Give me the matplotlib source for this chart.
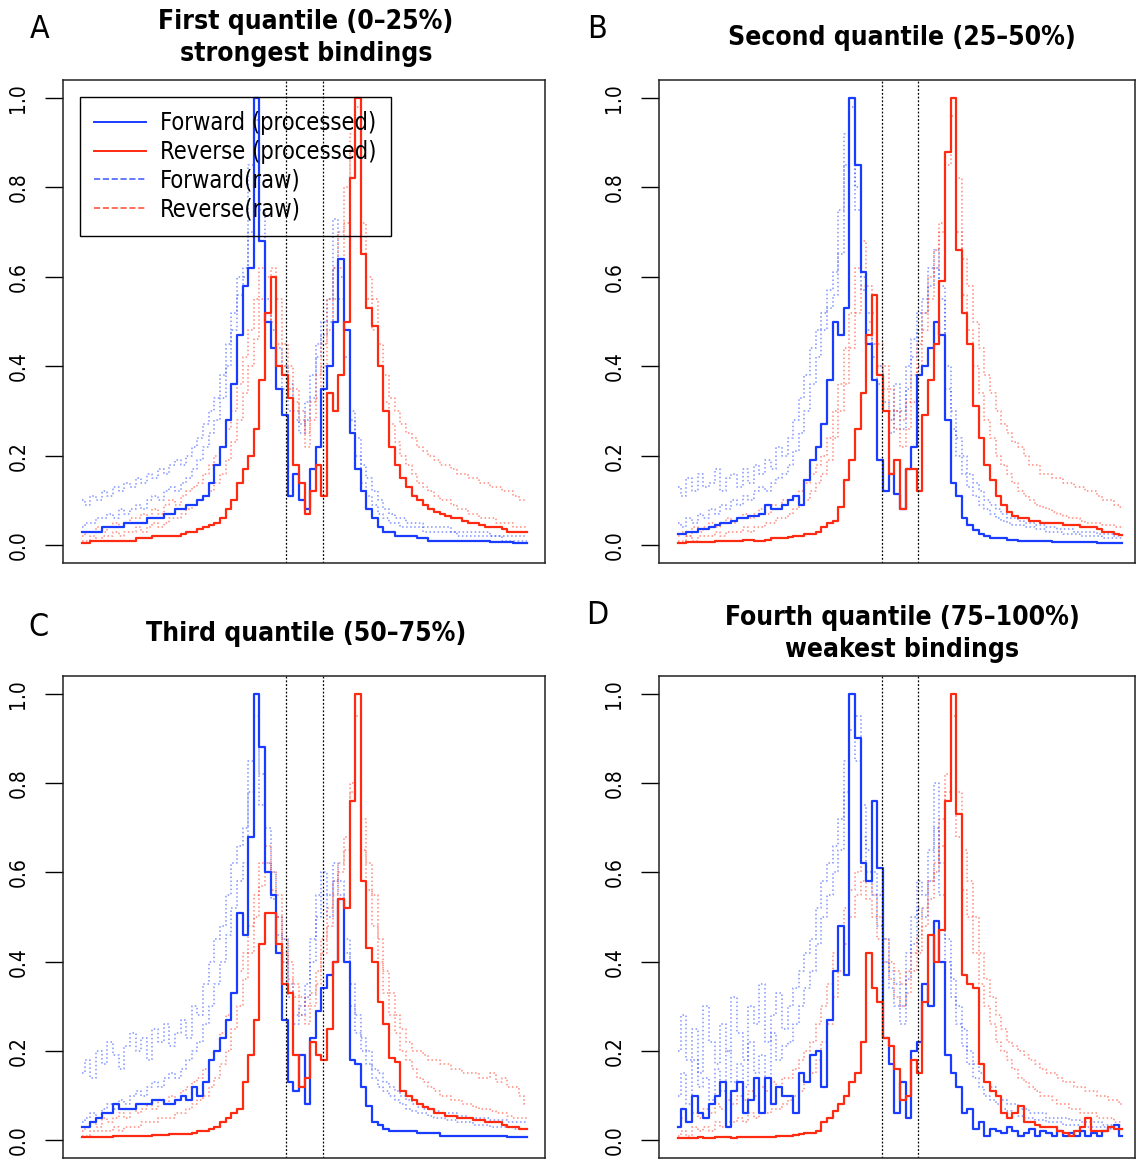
import numpy as np
import matplotlib
matplotlib.use('Agg')
import matplotlib.pyplot as plt
from matplotlib.lines import Line2D

# positions around the binding site (bp), one value per 5 bp bin
pos = np.arange(-197.5, 200, 5)
site = [-16, 16]

titles = ['First quantile (0\u201325%)\nstrongest bindings',
          'Second quantile (25\u201350%)',
          'Third quantile (50\u201375%)',
          'Fourth quantile (75\u2013100%)\nweakest bindings']
letters = ['A', 'B', 'C', 'D']
legend_labels = ['Forward (processed)', 'Reverse (processed)', 'Forward(raw)', 'Reverse(raw)']

# ---- panel A (values in % of max) ----
a_fwd = [3,3,3,3,4,4,4,4,5,5, 5,5,6,6,6,7,7,8,8,9, 9,10,11,14,18,22,28,36,47,58,
         62,100,68,50,44,35,29,11,16,10, 8,17,22,35,40,50,64,48,25,17,
         12,8,6,4,3,3,2,2,2,2, 1.5,1.5,1,1,1,1,1,1,1,1, 1,1,1,0.8,0.8,0.6,0.6,0.5,0.5,0.5]
a_rev = [0.5,0.5,1,1,1,1,1,1,1,1, 1.5,1.5,1.5,2,2,2,2,2,2.5,3, 3,3.5,4,4.5,5,6,8,10,14,17,
         20,26,37,52,60,40,38,33,18,14, 7,12,18,11,34,30,38,50,82,100,
         65,53,49,40,30,22,18,15,13,11, 10,9,8,7.5,7,6.5,6,6,5.5,5, 5,4.5,4,4,4,3.5,3,3,3,3]
a_fwd_raw1 = [10,9,11,10,12,11,13,12,14,13, 15,14,16,15,17,16,18,19,18,20,
              22,24,27,30,33,38,45,52,60,62, 85,100,75,55,48,44,40,36,30,27,
              32,38,45,50,55,73,60,48,30,24, 18,15,12,10,8,7,6,6,5,5,
              5,4,4,4,4,4,3,3,3,3, 3,3,3,2,2,2,2,2,2,2]
a_fwd_raw2 = [4,5,5,6,6,7,6,8,7,8, 9,8,10,11,10,12,13,12,14,15,
              17,19,22,25,28,33,40,48,56,60, 70,95,68,50,44,40,35,30,28,25,
              28,33,42,47,50,62,55,42,28,20, 14,11,9,7,6,5,5,4,4,4,
              4,3,3,3,3,3,3,2,2,2, 2,2,2,2,2,1,1,1,1,1]
a_rev_raw1 = [2,3,3,4,3,4,5,4,5,6, 6,7,6,8,7,9,10,9,11,12,
              13,14,16,18,20,22,26,30,36,42, 48,55,62,50,62,55,45,40,35,30,
              25,32,38,45,55,62,70,80,92,100, 72,60,55,45,38,33,30,27,25,24,
              22,21,20,19,18,18,17,16,16,15, 15,14,14,13,13,12,12,11,10,10]
a_rev_raw2 = [1,1,2,1,2,2,3,2,3,3, 4,3,4,5,4,5,6,6,7,8,
              9,10,11,12,14,16,19,23,28,34, 40,46,55,60,50,45,40,35,32,28,
              22,28,33,40,48,55,62,72,88,98, 65,55,48,40,32,27,23,20,18,16,
              14,13,12,11,10,10,9,8,8,7, 7,6,6,6,5,5,5,4,4,4]

# ---- panel B ----
b_fwd = [2.5,2.5,3,3,3.5,3.5,4,4.5,5,5, 5.5,6,6,6.5,6.5,7,9,8,8,9,
         10,11,9,14.5,19,22,27,37,50,47, 53,100,85,61,45,37,19,12,16,11.5,
         8,17,22,38,40,44,50,47,28,14, 11,6,4.5,3.3,2.5,2,1.5,1.5,1.5,1.2,
         1.2,1,1,1,1,1,1,0.8,0.8,0.8, 0.8,0.7,0.7,0.6,0.6,0.5,0.5,0.5,0.5,0.5]
b_rev = [0.4,0.5,0.6,0.6,0.7,0.8,0.8,0.9,1,1, 1,1,1.2,1.2,1,1,1.2,1.5,1.5,1.5,
         1.8,2,2,2.5,2.5,3,4,5,5.5,8.5, 14.5,19,26,34,47,56,38,30,16,19,
         8,17,17,12,29,37,45,59,88,100, 66,52,45,31,24,18,14.5,11,9,7.5,
         6.5,6,6,5.5,5.5,5,5,5,5,4.5, 4.5,4.5,4,4,4,3.5,3,3,2.5,2.2]
b_fwd_raw1 = [13,11,15,12,16,13,14,17,12,15, 16,13,17,14,18,16,19,17,22,20,
              24,28,33,38,44,48,52,57,61,75, 92,100,80,60,52,45,40,32,28,36,
              30,40,46,52,55,62,66,58,40,30, 24,20,16,14,12,10,9,8,7,6,
              6,5.5,5,5,4.5,4.5,4,4,3.5,3.5, 3.5,3,3,3,3,2.5,2.5,2.5,2,2]
b_fwd_raw2 = [5,4,6,5,7,6,8,7,9,8, 10,9,11,10,12,13,12,14,15,16,
              18,21,25,30,36,42,48,53,56,65, 85,98,75,57,48,42,36,30,25,30,
              26,35,42,48,52,58,62,55,35,26, 20,16,13,11,9,8,7,6,5.5,5,
              4.5,4.5,4,4,3.5,3.5,3,3,3,2.5, 2.5,2.5,2,2,2,2,1.5,1.5,1.5,1.5]
b_rev_raw1 = [2,3,2,4,3,4,5,4,5,6, 5,6,7,6,7,8,7,9,8,10,
              10,11,12,14,16,18,20,24,30,36, 44,52,62,68,58,52,45,40,35,30,
              28,32,38,45,52,60,66,72,88,100, 82,64,58,50,44,38,34,30,27,25,
              23,22,20,18,18,16,16,15,15,14, 14,13,13,12,12,11,10,10,9,8.5]
b_rev_raw2 = [1,1,2,1,2,2,2,3,2,3, 3,3,4,3,4,4,5,5,6,6,
              7,8,9,10,12,14,16,19,24,30, 36,44,52,58,50,45,40,35,30,26,
              22,26,32,40,48,55,62,70,85,96, 70,56,48,40,34,28,24,20,18,16,
              14,12,11,10,9,8.5,8,7.5,7,6.5, 6,6,5.5,5,5,5,4.5,4.5,4,4]

# ---- panel C ----
c_fwd = [3,3,4,5,6,6,8,7,7,7, 8,8,8,9,9,8,8,9,10,9, 12,10,13,18,20,23,27,33,51,46,
         68,100,88,60,55,42,27,13,11,19, 8,23,29,34,37,40,54,40,18,17,
         12,7.6,4,3.5,2.5,2,2,2,2,2, 1.5,1.5,1.5,1.5,1,1,1,1,1,1, 1,1,1,1,1,1,0.8,0.8,0.8,0.8]
c_rev = [0.6,0.6,0.7,0.7,0.8,0.8,0.9,0.9,1,1, 1,1,1,1.2,1.2,1.2,1.3,1.3,1.4,1.4,
         1.5,2,2,2.5,3,4,5,6,7,13, 19,27,44,51,51,44,35,33,19,12,
         14,22,19,18,25,40,54,52,76,100, 58,43,40,31,26,18.5,17.5,11,10,9,
         8,7.5,7,6,6,5.5,5.5,5,5,5, 4.5,4.5,4,4,4,3.5,3,3,2.5,2.5]
c_fwd_raw1 = [15,18,14,20,17,22,19,16,21,24, 20,23,18,25,22,26,21,24,27,23,
              30,28,35,40,45,48,55,62,66,70, 85,100,82,70,60,50,45,35,28,30,
              35,45,55,60,55,62,58,45,35,28, 23,20,16,15,13,12,11,10,9,8,
              7.5,7,7,6.5,6,6,6,5.5,5.5,5, 5,5,5,4.5,4.5,4.5,4,4,4,4]
c_fwd_raw2 = [4,5,6,5,7,8,7,9,8,10, 11,10,12,13,12,14,15,14,16,18,
              20,22,26,30,35,40,46,52,58,62, 78,95,75,62,54,46,40,32,26,28,
              32,40,50,55,50,58,55,42,30,24, 20,17,14,12,11,10,9,8,7,6.5,
              6,6,5.5,5,5,4.5,4.5,4,4,4, 3.5,3.5,3.5,3,3,3,3,2.5,2.5,2.5]
c_rev_raw1 = [2,3,4,3,5,4,5,6,5,7, 6,7,8,7,9,8,10,9,11,12,
              13,14,16,18,20,24,28,33,38,42, 48,55,62,66,60,55,45,40,35,32,
              30,33,38,45,52,58,62,68,80,100, 72,62,55,45,38,33,28,25,22,20,
              20,19,18,18,17,17,16,16,15,15, 15,14,14,15,13,14,12,12,10,8]
c_rev_raw2 = [1,1,2,2,2,2,3,2,3,3, 3,4,4,4,5,5,5,6,6,7,
              8,9,10,12,14,17,20,25,30,36, 42,50,57,62,56,50,42,36,32,28,
              26,30,35,42,48,55,60,65,78,95, 65,56,48,40,33,28,24,20,18,16,
              14,13,12,11,10,10,9,9,8,8, 7.5,7,7,6.5,6,6,5.5,5,5,5]

# ---- panel D ----
d_fwd = [3,7,4,10,6,5,8,10,13,3, 11,13,6,9,14,6,14,8,12,10, 10,6,15,13,19,20,12,27,38,48,
         37,100,90,62,58,76,61,23,17,6, 13,5,20,22,35,30,49,40,19,15,
         12,6,7,2.5,4,1,2.5,2,1.5,3, 2,1,1.5,2.5,1,2,1.5,1,2,1, 1.5,1,2,1,1.5,1,2,3,3.5,1]
d_rev = [0.5,0.5,0.4,0.5,0.6,0.4,0.5,0.6,0.7,0.6, 0.5,0.6,0.7,0.6,0.8,0.8,0.7,0.8,0.9,1,
         1,1.2,1.3,1.5,1.5,2,4,5,6.5,8, 10,13,15,22,42,34,31,23,21,16,
         9,10,18,15,31,46,40,47,76,100, 73,37,35,34,17,13,11,10,6,5,
         6,7.6,4,4,3.5,3,3,3,2,1.5, 1,2,3,5,2,2,2,3,2.5,2.5]
d_fwd_raw1 = [20,28,18,25,15,30,22,17,26,20, 32,24,18,30,26,35,22,28,33,25,
              30,34,38,42,45,52,58,62,66,72, 85,100,95,75,65,60,55,45,38,35,
              30,42,50,58,55,65,80,62,45,36, 30,25,20,17,15,13,12,10,9,8,
              8,7,7,6,6,6,5,5,5,5, 4.5,4.5,4,4,4,4,3.5,3.5,3.5,3.5]
d_fwd_raw2 = [10,15,8,18,12,14,9,16,11,20, 13,17,12,22,15,19,14,24,18,21,
              22,26,30,34,38,44,50,55,60,65, 78,92,85,68,60,55,48,40,34,30,
              26,36,44,52,50,58,70,55,40,32, 26,21,17,14,12,10,9,8,7,6.5,
              6,5.5,5,5,4.5,4.5,4,4,4,3.5, 3.5,3.5,3,3,3,3,3,2.5,2.5,2.5]
d_rev_raw1 = [3,5,4,6,5,7,6,8,7,9, 8,10,9,11,10,12,11,13,12,14,
              14,16,18,20,22,26,30,35,42,48, 52,56,60,62,58,55,50,45,40,38,
              35,38,42,46,52,58,62,72,82,100, 78,65,58,50,42,36,32,28,25,22,
              21,20,19,18,17,16,15,15,14,13, 13,12,12,11,11,10,10,9,9,8]
d_rev_raw2 = [1,2,1,3,2,3,2,4,3,4, 4,5,4,6,5,6,6,7,7,8,
              9,10,11,13,15,18,22,26,32,38, 44,50,55,58,54,50,45,40,36,32,
              30,33,38,42,48,54,60,66,78,95, 68,56,50,42,35,30,26,22,20,18,
              16,14,13,12,11,10,10,9,8,8, 7,7,6,6,6,5,5,5,4,4]

panels = [
    (a_fwd, a_rev, [a_fwd_raw1, a_fwd_raw2], [a_rev_raw1, a_rev_raw2]),
    (b_fwd, b_rev, [b_fwd_raw1, b_fwd_raw2], [b_rev_raw1, b_rev_raw2]),
    (c_fwd, c_rev, [c_fwd_raw1, c_fwd_raw2], [c_rev_raw1, c_rev_raw2]),
    (d_fwd, d_rev, [d_fwd_raw1, d_fwd_raw2], [d_rev_raw1, d_rev_raw2]),
]

blue = '#1a3cff'
red = '#ff2a12'
plt.rcParams['font.family'] = ['DejaVu Sans']
plt.rcParams['font.stretch'] = 'condensed'

W, H = 1136, 1160
fig = plt.figure(figsize=(W / 100, H / 100), dpi=100)

# axes boxes in pixels: left, top, right, bottom
boxes = [(63, 80, 545, 563), (659, 80, 1135, 563), (63, 676, 545, 1158), (659, 676, 1135, 1158)]
xlims = [(-214.4, 213.5), (-214.4, 209.1), (-214.4, 213.5), (-214.4, 209.1)]
letter_xy = [(40, 30), (597, 30), (38, 627), (597, 616)]
title_xy = [(306, 38), (902, 38), (306, 634), (902, 634)]

for i, (fwd, rev, fraws, rraws) in enumerate(panels):
    l, t, r, b = boxes[i]
    ax = fig.add_axes([l / W, 1 - b / H, (r - l) / W, (b - t) / H])
    for raw in fraws:
        ax.step(pos, np.array(raw) / 100, where='mid', color=blue, lw=1.1, ls=':', alpha=0.55)
    for raw in rraws:
        ax.step(pos, np.array(raw) / 100, where='mid', color=red, lw=1.1, ls=':', alpha=0.55)
    ax.step(pos, np.array(fwd) / 100, where='mid', color=blue, lw=1.6)
    ax.step(pos, np.array(rev) / 100, where='mid', color=red, lw=1.6)
    for s in site:
        ax.axvline(s, color='black', lw=0.9, ls=(0, (1.5, 1.5)))
    ax.set_xlim(xlims[i])
    ax.set_ylim(-0.04, 1.04)
    ax.set_xticks([])
    ax.set_yticks([0, 0.2, 0.4, 0.6, 0.8, 1.0])
    ax.set_yticklabels(['0.0', '0.2', '0.4', '0.6', '0.8', '1.0'], rotation=90, va='center')
    ax.tick_params(axis='y', length=13, width=1, pad=12, labelsize=15)
    for sp in ax.spines.values():
        sp.set_linewidth(1.1)
        sp.set_color('#222222')

    fig.text(letter_xy[i][0] / W, 1 - letter_xy[i][1] / H, letters[i], fontsize=23,
             ha='center', va='center')
    fig.text(title_xy[i][0] / W, 1 - title_xy[i][1] / H, titles[i], fontsize=19,
             fontweight='bold', ha='center', va='center', linespacing=1.3)

    if i == 0:
        handles = [Line2D([], [], color=blue, lw=1.4),
                   Line2D([], [], color=red, lw=1.4),
                   Line2D([], [], color=blue, lw=1.2, ls='--', alpha=0.8),
                   Line2D([], [], color=red, lw=1.2, ls='--', alpha=0.8)]
        leg = ax.legend(handles, legend_labels, loc='upper left',
                        bbox_to_anchor=((80 - l) / (r - l), 1 - (97 - t) / (b - t)),
                        fontsize=17, frameon=True, fancybox=False,
                        facecolor='none', edgecolor='black', borderaxespad=0,
                        handlelength=2.2, handletextpad=0.6, labelspacing=0.2,
                        borderpad=0.6)
        leg.get_frame().set_linewidth(1.0)
        leg.get_frame().set_alpha(None)

fig.savefig('out.png', dpi=100)
